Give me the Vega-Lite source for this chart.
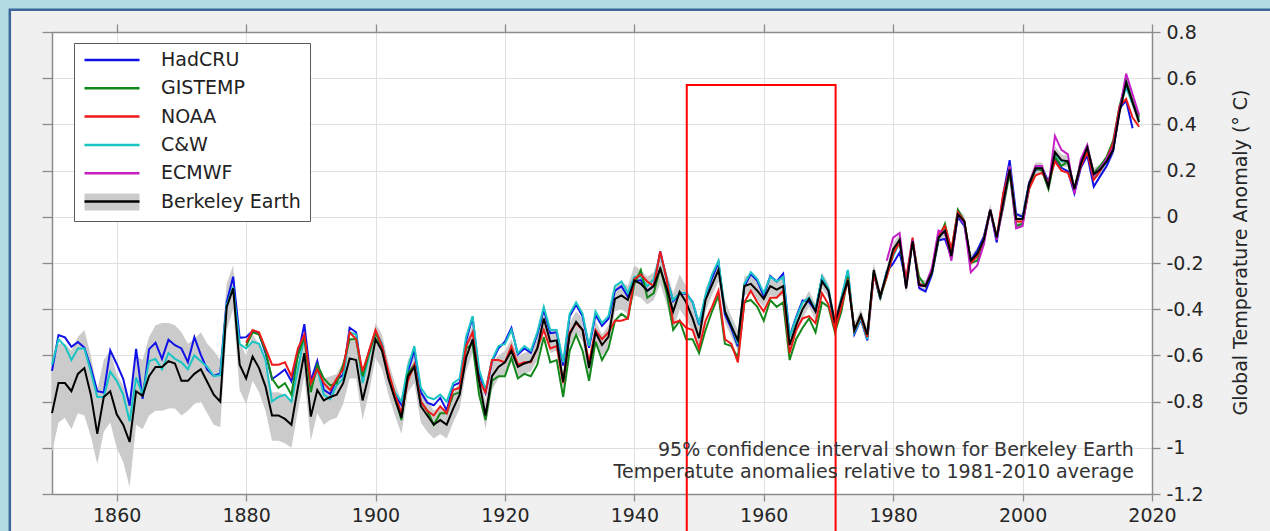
{
  "$schema": "https://vega.github.io/schema/vega-lite/v6.json",
  "width": 1100,
  "height": 462,
  "autosize": {"type": "none"},
  "padding": {"left": 52, "top": 32, "right": 118, "bottom": 37},
  "background": "#f0f0f0",
  "config": {
    "view": {"fill": "white", "stroke": null},
    "font": "DejaVu Sans",
    "axis": {
      "domainColor": "#8c8c8c",
      "domainWidth": 1.5,
      "tickColor": "#8c8c8c",
      "tickWidth": 1.3,
      "labelColor": "#262626",
      "labelFont": "DejaVu Sans",
      "labelFontSize": 19,
      "labelFlush": false,
      "labelOverlap": false,
      "gridColor": "#e0e0e0",
      "gridWidth": 1,
      "titleFont": "DejaVu Sans",
      "titleFontSize": 19,
      "titleFontWeight": "normal",
      "titleColor": "#262626"
    }
  },
  "data": {
    "values": [
      {"year":1850,"HadCRU":-0.667,"C&W":-0.64,"Berkeley Earth":-0.85,"lo":-1.02,"hi":-0.66},
      {"year":1851,"HadCRU":-0.512,"C&W":-0.53,"Berkeley Earth":-0.72,"lo":-0.89,"hi":-0.55},
      {"year":1852,"HadCRU":-0.522,"C&W":-0.56,"Berkeley Earth":-0.72,"lo":-0.87,"hi":-0.55},
      {"year":1853,"HadCRU":-0.563,"C&W":-0.62,"Berkeley Earth":-0.755,"lo":-0.92,"hi":-0.58},
      {"year":1854,"HadCRU":-0.542,"C&W":-0.57,"Berkeley Earth":-0.68,"lo":-0.85,"hi":-0.52},
      {"year":1855,"HadCRU":-0.566,"C&W":-0.57,"Berkeley Earth":-0.655,"lo":-0.86,"hi":-0.49},
      {"year":1856,"HadCRU":-0.652,"C&W":-0.67,"Berkeley Earth":-0.77,"lo":-0.95,"hi":-0.6},
      {"year":1857,"HadCRU":-0.755,"C&W":-0.78,"Berkeley Earth":-0.94,"lo":-1.07,"hi":-0.75},
      {"year":1858,"HadCRU":-0.761,"C&W":-0.78,"Berkeley Earth":-0.78,"lo":-0.93,"hi":-0.62},
      {"year":1859,"HadCRU":-0.578,"C&W":-0.67,"Berkeley Earth":-0.755,"lo":-0.89,"hi":-0.58},
      {"year":1860,"HadCRU":-0.637,"C&W":-0.71,"Berkeley Earth":-0.855,"lo":-1.0,"hi":-0.68},
      {"year":1861,"HadCRU":-0.701,"C&W":-0.77,"Berkeley Earth":-0.9,"lo":-1.06,"hi":-0.73},
      {"year":1862,"HadCRU":-0.818,"C&W":-0.885,"Berkeley Earth":-0.975,"lo":-1.17,"hi":-0.8},
      {"year":1863,"HadCRU":-0.572,"C&W":-0.695,"Berkeley Earth":-0.755,"lo":-0.9,"hi":-0.6},
      {"year":1864,"HadCRU":-0.788,"C&W":-0.77,"Berkeley Earth":-0.775,"lo":-0.92,"hi":-0.62},
      {"year":1865,"HadCRU":-0.573,"C&W":-0.625,"Berkeley Earth":-0.69,"lo":-0.86,"hi":-0.52},
      {"year":1866,"HadCRU":-0.545,"C&W":-0.615,"Berkeley Earth":-0.65,"lo":-0.84,"hi":-0.47},
      {"year":1867,"HadCRU":-0.615,"C&W":-0.66,"Berkeley Earth":-0.65,"lo":-0.84,"hi":-0.46},
      {"year":1868,"HadCRU":-0.532,"C&W":-0.59,"Berkeley Earth":-0.625,"lo":-0.83,"hi":-0.46},
      {"year":1869,"HadCRU":-0.556,"C&W":-0.615,"Berkeley Earth":-0.635,"lo":-0.83,"hi":-0.47},
      {"year":1870,"HadCRU":-0.57,"C&W":-0.63,"Berkeley Earth":-0.71,"lo":-0.86,"hi":-0.5},
      {"year":1871,"HadCRU":-0.629,"C&W":-0.66,"Berkeley Earth":-0.71,"lo":-0.84,"hi":-0.55},
      {"year":1872,"HadCRU":-0.521,"C&W":-0.6,"Berkeley Earth":-0.68,"lo":-0.81,"hi":-0.53},
      {"year":1873,"HadCRU":-0.598,"C&W":-0.625,"Berkeley Earth":-0.66,"lo":-0.8,"hi":-0.5},
      {"year":1874,"HadCRU":-0.662,"C&W":-0.65,"Berkeley Earth":-0.715,"lo":-0.85,"hi":-0.55},
      {"year":1875,"HadCRU":-0.689,"C&W":-0.69,"Berkeley Earth":-0.77,"lo":-0.9,"hi":-0.58},
      {"year":1876,"HadCRU":-0.678,"C&W":-0.685,"Berkeley Earth":-0.8,"lo":-0.91,"hi":-0.62},
      {"year":1877,"HadCRU":-0.369,"C&W":-0.38,"Berkeley Earth":-0.39,"lo":-0.49,"hi":-0.29},
      {"year":1878,"HadCRU":-0.259,"C&W":-0.305,"Berkeley Earth":-0.31,"lo":-0.4,"hi":-0.21},
      {"year":1879,"HadCRU":-0.524,"C&W":-0.55,"Berkeley Earth":-0.64,"lo":-0.75,"hi":-0.54},
      {"year":1880,"HadCRU":-0.521,"GISTEMP":-0.56,"NOAA":-0.545,"C&W":-0.57,"Berkeley Earth":-0.7,"lo":-0.81,"hi":-0.6},
      {"year":1881,"HadCRU":-0.494,"GISTEMP":-0.5,"NOAA":-0.49,"C&W":-0.54,"Berkeley Earth":-0.605,"lo":-0.71,"hi":-0.51},
      {"year":1882,"HadCRU":-0.507,"GISTEMP":-0.51,"NOAA":-0.5,"C&W":-0.55,"Berkeley Earth":-0.655,"lo":-0.76,"hi":-0.55},
      {"year":1883,"HadCRU":-0.59,"GISTEMP":-0.58,"NOAA":-0.57,"C&W":-0.62,"Berkeley Earth":-0.735,"lo":-0.84,"hi":-0.63},
      {"year":1884,"HadCRU":-0.703,"GISTEMP":-0.7,"NOAA":-0.64,"C&W":-0.8,"Berkeley Earth":-0.86,"lo":-0.97,"hi":-0.76},
      {"year":1885,"HadCRU":-0.683,"GISTEMP":-0.74,"NOAA":-0.64,"C&W":-0.78,"Berkeley Earth":-0.86,"lo":-0.97,"hi":-0.76},
      {"year":1886,"HadCRU":-0.661,"GISTEMP":-0.72,"NOAA":-0.63,"C&W":-0.77,"Berkeley Earth":-0.875,"lo":-0.98,"hi":-0.77},
      {"year":1887,"HadCRU":-0.712,"GISTEMP":-0.77,"NOAA":-0.69,"C&W":-0.8,"Berkeley Earth":-0.9,"lo":-1.0,"hi":-0.8},
      {"year":1888,"HadCRU":-0.601,"GISTEMP":-0.6,"NOAA":-0.57,"C&W":-0.66,"Berkeley Earth":-0.74,"lo":-0.84,"hi":-0.64},
      {"year":1889,"HadCRU":-0.465,"GISTEMP":-0.52,"NOAA":-0.51,"C&W":-0.52,"Berkeley Earth":-0.59,"lo":-0.69,"hi":-0.5},
      {"year":1890,"HadCRU":-0.71,"GISTEMP":-0.76,"NOAA":-0.72,"C&W":-0.74,"Berkeley Earth":-0.865,"lo":-0.97,"hi":-0.77},
      {"year":1891,"HadCRU":-0.624,"GISTEMP":-0.64,"NOAA":-0.66,"C&W":-0.66,"Berkeley Earth":-0.75,"lo":-0.85,"hi":-0.66},
      {"year":1892,"HadCRU":-0.749,"GISTEMP":-0.7,"NOAA":-0.72,"C&W":-0.77,"Berkeley Earth":-0.795,"lo":-0.9,"hi":-0.7},
      {"year":1893,"HadCRU":-0.767,"GISTEMP":-0.73,"NOAA":-0.75,"C&W":-0.79,"Berkeley Earth":-0.78,"lo":-0.88,"hi":-0.69},
      {"year":1894,"HadCRU":-0.704,"GISTEMP":-0.72,"NOAA":-0.7,"C&W":-0.73,"Berkeley Earth":-0.77,"lo":-0.87,"hi":-0.68},
      {"year":1895,"HadCRU":-0.684,"GISTEMP":-0.64,"NOAA":-0.66,"C&W":-0.7,"Berkeley Earth":-0.72,"lo":-0.81,"hi":-0.63},
      {"year":1896,"HadCRU":-0.48,"GISTEMP":-0.53,"NOAA":-0.5,"C&W":-0.5,"Berkeley Earth":-0.613,"lo":-0.7,"hi":-0.53},
      {"year":1897,"HadCRU":-0.5,"GISTEMP":-0.53,"NOAA":-0.53,"C&W":-0.51,"Berkeley Earth":-0.62,"lo":-0.7,"hi":-0.54},
      {"year":1898,"HadCRU":-0.706,"GISTEMP":-0.69,"NOAA":-0.67,"C&W":-0.72,"Berkeley Earth":-0.795,"lo":-0.88,"hi":-0.71},
      {"year":1899,"HadCRU":-0.583,"GISTEMP":-0.59,"NOAA":-0.58,"C&W":-0.6,"Berkeley Earth":-0.68,"lo":-0.76,"hi":-0.6},
      {"year":1900,"HadCRU":-0.497,"GISTEMP":-0.5,"NOAA":-0.49,"C&W":-0.5,"Berkeley Earth":-0.53,"lo":-0.61,"hi":-0.46},
      {"year":1901,"HadCRU":-0.553,"GISTEMP":-0.57,"NOAA":-0.56,"C&W":-0.55,"Berkeley Earth":-0.58,"lo":-0.66,"hi":-0.51},
      {"year":1902,"HadCRU":-0.696,"GISTEMP":-0.69,"NOAA":-0.67,"C&W":-0.69,"Berkeley Earth":-0.7,"lo":-0.77,"hi":-0.63},
      {"year":1903,"HadCRU":-0.773,"GISTEMP":-0.78,"NOAA":-0.77,"C&W":-0.76,"Berkeley Earth":-0.79,"lo":-0.86,"hi":-0.72},
      {"year":1904,"HadCRU":-0.814,"GISTEMP":-0.88,"NOAA":-0.85,"C&W":-0.8,"Berkeley Earth":-0.87,"lo":-0.94,"hi":-0.8},
      {"year":1905,"HadCRU":-0.671,"GISTEMP":-0.68,"NOAA":-0.71,"C&W":-0.65,"Berkeley Earth":-0.69,"lo":-0.76,"hi":-0.62},
      {"year":1906,"HadCRU":-0.577,"GISTEMP":-0.64,"NOAA":-0.64,"C&W":-0.56,"Berkeley Earth":-0.65,"lo":-0.72,"hi":-0.58},
      {"year":1907,"HadCRU":-0.759,"GISTEMP":-0.8,"NOAA":-0.8,"C&W":-0.74,"Berkeley Earth":-0.82,"lo":-0.89,"hi":-0.75},
      {"year":1908,"HadCRU":-0.805,"GISTEMP":-0.84,"NOAA":-0.84,"C&W":-0.78,"Berkeley Earth":-0.86,"lo":-0.93,"hi":-0.79},
      {"year":1909,"HadCRU":-0.816,"GISTEMP":-0.9,"NOAA":-0.86,"C&W":-0.79,"Berkeley Earth":-0.9,"lo":-0.96,"hi":-0.84},
      {"year":1910,"HadCRU":-0.784,"GISTEMP":-0.85,"NOAA":-0.82,"C&W":-0.77,"Berkeley Earth":-0.88,"lo":-0.94,"hi":-0.82},
      {"year":1911,"HadCRU":-0.838,"GISTEMP":-0.85,"NOAA":-0.85,"C&W":-0.8,"Berkeley Earth":-0.9,"lo":-0.96,"hi":-0.84},
      {"year":1912,"HadCRU":-0.731,"GISTEMP":-0.77,"NOAA":-0.75,"C&W":-0.72,"Berkeley Earth":-0.83,"lo":-0.89,"hi":-0.77},
      {"year":1913,"HadCRU":-0.718,"GISTEMP":-0.76,"NOAA":-0.74,"C&W":-0.7,"Berkeley Earth":-0.77,"lo":-0.83,"hi":-0.71},
      {"year":1914,"HadCRU":-0.538,"GISTEMP":-0.57,"NOAA":-0.56,"C&W":-0.52,"Berkeley Earth":-0.61,"lo":-0.67,"hi":-0.55},
      {"year":1915,"HadCRU":-0.435,"GISTEMP":-0.55,"NOAA":-0.5,"C&W":-0.43,"Berkeley Earth":-0.53,"lo":-0.59,"hi":-0.47},
      {"year":1916,"HadCRU":-0.677,"GISTEMP":-0.77,"NOAA":-0.71,"C&W":-0.66,"Berkeley Earth":-0.71,"lo":-0.77,"hi":-0.65},
      {"year":1917,"HadCRU":-0.762,"GISTEMP":-0.88,"NOAA":-0.76,"C&W":-0.75,"Berkeley Earth":-0.86,"lo":-0.92,"hi":-0.8},
      {"year":1918,"HadCRU":-0.627,"GISTEMP":-0.71,"NOAA":-0.62,"C&W":-0.62,"Berkeley Earth":-0.69,"lo":-0.75,"hi":-0.63},
      {"year":1919,"HadCRU":-0.569,"GISTEMP":-0.69,"NOAA":-0.62,"C&W":-0.56,"Berkeley Earth":-0.65,"lo":-0.7,"hi":-0.6},
      {"year":1920,"HadCRU":-0.541,"GISTEMP":-0.69,"NOAA":-0.63,"C&W":-0.55,"Berkeley Earth":-0.63,"lo":-0.68,"hi":-0.58},
      {"year":1921,"HadCRU":-0.481,"GISTEMP":-0.61,"NOAA":-0.56,"C&W":-0.49,"Berkeley Earth":-0.58,"lo":-0.63,"hi":-0.53},
      {"year":1922,"HadCRU":-0.596,"GISTEMP":-0.7,"NOAA":-0.64,"C&W":-0.59,"Berkeley Earth":-0.65,"lo":-0.7,"hi":-0.6},
      {"year":1923,"HadCRU":-0.57,"GISTEMP":-0.68,"NOAA":-0.63,"C&W":-0.56,"Berkeley Earth":-0.635,"lo":-0.68,"hi":-0.59},
      {"year":1924,"HadCRU":-0.588,"GISTEMP":-0.69,"NOAA":-0.63,"C&W":-0.58,"Berkeley Earth":-0.625,"lo":-0.67,"hi":-0.58},
      {"year":1925,"HadCRU":-0.509,"GISTEMP":-0.64,"NOAA":-0.57,"C&W":-0.5,"Berkeley Earth":-0.57,"lo":-0.62,"hi":-0.52},
      {"year":1926,"HadCRU":-0.402,"GISTEMP":-0.52,"NOAA":-0.49,"C&W":-0.39,"Berkeley Earth":-0.44,"lo":-0.49,"hi":-0.39},
      {"year":1927,"HadCRU":-0.504,"GISTEMP":-0.63,"NOAA":-0.57,"C&W":-0.49,"Berkeley Earth":-0.54,"lo":-0.59,"hi":-0.49},
      {"year":1928,"HadCRU":-0.5,"GISTEMP":-0.62,"NOAA":-0.56,"C&W":-0.49,"Berkeley Earth":-0.535,"lo":-0.58,"hi":-0.49},
      {"year":1929,"HadCRU":-0.644,"GISTEMP":-0.78,"NOAA":-0.72,"C&W":-0.63,"Berkeley Earth":-0.715,"lo":-0.76,"hi":-0.67},
      {"year":1930,"HadCRU":-0.431,"GISTEMP":-0.58,"NOAA":-0.5,"C&W":-0.42,"Berkeley Earth":-0.51,"lo":-0.56,"hi":-0.46},
      {"year":1931,"HadCRU":-0.381,"GISTEMP":-0.51,"NOAA":-0.46,"C&W":-0.37,"Berkeley Earth":-0.455,"lo":-0.5,"hi":-0.41},
      {"year":1932,"HadCRU":-0.431,"GISTEMP":-0.58,"NOAA":-0.49,"C&W":-0.42,"Berkeley Earth":-0.49,"lo":-0.54,"hi":-0.44},
      {"year":1933,"HadCRU":-0.567,"GISTEMP":-0.71,"NOAA":-0.63,"C&W":-0.56,"Berkeley Earth":-0.655,"lo":-0.7,"hi":-0.61},
      {"year":1934,"HadCRU":-0.425,"GISTEMP":-0.54,"NOAA":-0.49,"C&W":-0.41,"Berkeley Earth":-0.5,"lo":-0.55,"hi":-0.45},
      {"year":1935,"HadCRU":-0.472,"GISTEMP":-0.62,"NOAA":-0.53,"C&W":-0.46,"Berkeley Earth":-0.555,"lo":-0.6,"hi":-0.51},
      {"year":1936,"HadCRU":-0.441,"GISTEMP":-0.57,"NOAA":-0.5,"C&W":-0.43,"Berkeley Earth":-0.52,"lo":-0.57,"hi":-0.47},
      {"year":1937,"HadCRU":-0.32,"GISTEMP":-0.45,"NOAA":-0.45,"C&W":-0.3,"Berkeley Earth":-0.355,"lo":-0.41,"hi":-0.3},
      {"year":1938,"HadCRU":-0.3,"GISTEMP":-0.42,"NOAA":-0.45,"C&W":-0.28,"Berkeley Earth":-0.34,"lo":-0.4,"hi":-0.28},
      {"year":1939,"HadCRU":-0.346,"GISTEMP":-0.44,"NOAA":-0.44,"C&W":-0.33,"Berkeley Earth":-0.36,"lo":-0.42,"hi":-0.3},
      {"year":1940,"HadCRU":-0.28,"GISTEMP":-0.29,"NOAA":-0.27,"C&W":-0.26,"Berkeley Earth":-0.275,"lo":-0.34,"hi":-0.21},
      {"year":1941,"HadCRU":-0.274,"GISTEMP":-0.23,"NOAA":-0.25,"C&W":-0.26,"Berkeley Earth":-0.29,"lo":-0.35,"hi":-0.23},
      {"year":1942,"HadCRU":-0.321,"GISTEMP":-0.35,"NOAA":-0.28,"C&W":-0.3,"Berkeley Earth":-0.32,"lo":-0.38,"hi":-0.26},
      {"year":1943,"HadCRU":-0.298,"GISTEMP":-0.33,"NOAA":-0.3,"C&W":-0.27,"Berkeley Earth":-0.3,"lo":-0.36,"hi":-0.24},
      {"year":1944,"HadCRU":-0.15,"GISTEMP":-0.22,"NOAA":-0.15,"C&W":-0.16,"Berkeley Earth":-0.225,"lo":-0.29,"hi":-0.16},
      {"year":1945,"HadCRU":-0.269,"GISTEMP":-0.33,"NOAA":-0.27,"C&W":-0.27,"Berkeley Earth":-0.31,"lo":-0.38,"hi":-0.24},
      {"year":1946,"HadCRU":-0.365,"GISTEMP":-0.49,"NOAA":-0.46,"C&W":-0.36,"Berkeley Earth":-0.41,"lo":-0.49,"hi":-0.33},
      {"year":1947,"HadCRU":-0.332,"GISTEMP":-0.45,"NOAA":-0.45,"C&W":-0.33,"Berkeley Earth":-0.325,"lo":-0.4,"hi":-0.25},
      {"year":1948,"HadCRU":-0.333,"GISTEMP":-0.53,"NOAA":-0.48,"C&W":-0.33,"Berkeley Earth":-0.37,"lo":-0.44,"hi":-0.3},
      {"year":1949,"HadCRU":-0.368,"GISTEMP":-0.53,"NOAA":-0.49,"C&W":-0.37,"Berkeley Earth":-0.44,"lo":-0.5,"hi":-0.38},
      {"year":1950,"HadCRU":-0.467,"GISTEMP":-0.59,"NOAA":-0.57,"C&W":-0.46,"Berkeley Earth":-0.525,"lo":-0.58,"hi":-0.47},
      {"year":1951,"HadCRU":-0.346,"GISTEMP":-0.49,"NOAA":-0.45,"C&W":-0.34,"Berkeley Earth":-0.36,"lo":-0.41,"hi":-0.31},
      {"year":1952,"HadCRU":-0.266,"GISTEMP":-0.41,"NOAA":-0.39,"C&W":-0.25,"Berkeley Earth":-0.295,"lo":-0.34,"hi":-0.25},
      {"year":1953,"HadCRU":-0.197,"GISTEMP":-0.34,"NOAA":-0.32,"C&W":-0.19,"Berkeley Earth":-0.23,"lo":-0.28,"hi":-0.18},
      {"year":1954,"HadCRU":-0.423,"GISTEMP":-0.55,"NOAA":-0.53,"C&W":-0.41,"Berkeley Earth":-0.41,"lo":-0.46,"hi":-0.36},
      {"year":1955,"HadCRU":-0.484,"GISTEMP":-0.56,"NOAA":-0.55,"C&W":-0.47,"Berkeley Earth":-0.475,"lo":-0.52,"hi":-0.43},
      {"year":1956,"HadCRU":-0.561,"GISTEMP":-0.61,"NOAA":-0.63,"C&W":-0.55,"Berkeley Earth":-0.535,"lo":-0.58,"hi":-0.49},
      {"year":1957,"HadCRU":-0.301,"GISTEMP":-0.37,"NOAA":-0.37,"C&W":-0.29,"Berkeley Earth":-0.3,"lo":-0.34,"hi":-0.26},
      {"year":1958,"HadCRU":-0.248,"GISTEMP":-0.36,"NOAA":-0.32,"C&W":-0.24,"Berkeley Earth":-0.29,"lo":-0.33,"hi":-0.25},
      {"year":1959,"HadCRU":-0.277,"GISTEMP":-0.39,"NOAA":-0.37,"C&W":-0.27,"Berkeley Earth":-0.32,"lo":-0.36,"hi":-0.28},
      {"year":1960,"HadCRU":-0.343,"GISTEMP":-0.45,"NOAA":-0.41,"C&W":-0.33,"Berkeley Earth":-0.355,"lo":-0.39,"hi":-0.32},
      {"year":1961,"HadCRU":-0.256,"GISTEMP":-0.36,"NOAA":-0.35,"C&W":-0.26,"Berkeley Earth":-0.3,"lo":-0.34,"hi":-0.27},
      {"year":1962,"HadCRU":-0.28,"GISTEMP":-0.39,"NOAA":-0.35,"C&W":-0.28,"Berkeley Earth":-0.315,"lo":-0.35,"hi":-0.28},
      {"year":1963,"HadCRU":-0.246,"GISTEMP":-0.37,"NOAA":-0.32,"C&W":-0.26,"Berkeley Earth":-0.3,"lo":-0.34,"hi":-0.26},
      {"year":1964,"HadCRU":-0.517,"GISTEMP":-0.62,"NOAA":-0.59,"C&W":-0.52,"Berkeley Earth":-0.555,"lo":-0.59,"hi":-0.52},
      {"year":1965,"HadCRU":-0.434,"GISTEMP":-0.53,"NOAA":-0.49,"C&W":-0.44,"Berkeley Earth":-0.47,"lo":-0.51,"hi":-0.43},
      {"year":1966,"HadCRU":-0.362,"GISTEMP":-0.48,"NOAA":-0.44,"C&W":-0.37,"Berkeley Earth":-0.4,"lo":-0.44,"hi":-0.37},
      {"year":1967,"HadCRU":-0.368,"GISTEMP":-0.44,"NOAA":-0.43,"C&W":-0.35,"Berkeley Earth":-0.355,"lo":-0.39,"hi":-0.32},
      {"year":1968,"HadCRU":-0.407,"GISTEMP":-0.5,"NOAA":-0.46,"C&W":-0.4,"Berkeley Earth":-0.41,"lo":-0.45,"hi":-0.38},
      {"year":1969,"HadCRU":-0.262,"GISTEMP":-0.37,"NOAA":-0.33,"C&W":-0.26,"Berkeley Earth":-0.28,"lo":-0.31,"hi":-0.24},
      {"year":1970,"HadCRU":-0.321,"GISTEMP":-0.39,"NOAA":-0.38,"C&W":-0.31,"Berkeley Earth":-0.32,"lo":-0.35,"hi":-0.29},
      {"year":1971,"HadCRU":-0.48,"GISTEMP":-0.5,"NOAA":-0.49,"C&W":-0.47,"Berkeley Earth":-0.46,"lo":-0.49,"hi":-0.43},
      {"year":1972,"HadCRU":-0.359,"GISTEMP":-0.41,"NOAA":-0.39,"C&W":-0.35,"Berkeley Earth":-0.36,"lo":-0.39,"hi":-0.33},
      {"year":1973,"HadCRU":-0.232,"GISTEMP":-0.26,"NOAA":-0.27,"C&W":-0.23,"Berkeley Earth":-0.275,"lo":-0.3,"hi":-0.24},
      {"year":1974,"HadCRU":-0.508,"GISTEMP":-0.49,"NOAA":-0.49,"C&W":-0.5,"Berkeley Earth":-0.49,"lo":-0.52,"hi":-0.46},
      {"year":1975,"HadCRU":-0.443,"GISTEMP":-0.43,"NOAA":-0.43,"C&W":-0.44,"Berkeley Earth":-0.425,"lo":-0.45,"hi":-0.4},
      {"year":1976,"HadCRU":-0.535,"GISTEMP":-0.52,"NOAA":-0.52,"C&W":-0.53,"Berkeley Earth":-0.51,"lo":-0.54,"hi":-0.48},
      {"year":1977,"HadCRU":-0.247,"GISTEMP":-0.24,"NOAA":-0.25,"C&W":-0.24,"Berkeley Earth":-0.23,"lo":-0.26,"hi":-0.2},
      {"year":1978,"HadCRU":-0.356,"GISTEMP":-0.35,"NOAA":-0.34,"C&W":-0.35,"Berkeley Earth":-0.345,"lo":-0.37,"hi":-0.32},
      {"year":1979,"HadCRU":-0.237,"GISTEMP":-0.26,"NOAA":-0.26,"C&W":-0.24,"ECMWF":-0.19,"Berkeley Earth":-0.245,"lo":-0.27,"hi":-0.22},
      {"year":1980,"HadCRU":-0.202,"GISTEMP":-0.16,"NOAA":-0.16,"C&W":-0.17,"ECMWF":-0.09,"Berkeley Earth":-0.14,"lo":-0.165,"hi":-0.115},
      {"year":1981,"HadCRU":-0.154,"GISTEMP":-0.1,"NOAA":-0.11,"C&W":-0.11,"ECMWF":-0.07,"Berkeley Earth":-0.1,"lo":-0.125,"hi":-0.075},
      {"year":1982,"HadCRU":-0.283,"GISTEMP":-0.28,"NOAA":-0.27,"C&W":-0.3,"ECMWF":-0.31,"Berkeley Earth":-0.31,"lo":-0.335,"hi":-0.285},
      {"year":1983,"HadCRU":-0.1,"GISTEMP":-0.11,"NOAA":-0.09,"C&W":-0.1,"ECMWF":-0.1,"Berkeley Earth":-0.105,"lo":-0.13,"hi":-0.08},
      {"year":1984,"HadCRU":-0.308,"GISTEMP":-0.26,"NOAA":-0.29,"C&W":-0.29,"ECMWF":-0.3,"Berkeley Earth":-0.295,"lo":-0.32,"hi":-0.27},
      {"year":1985,"HadCRU":-0.324,"GISTEMP":-0.3,"NOAA":-0.3,"C&W":-0.3,"ECMWF":-0.3,"Berkeley Earth":-0.3,"lo":-0.325,"hi":-0.275},
      {"year":1986,"HadCRU":-0.249,"GISTEMP":-0.24,"NOAA":-0.23,"C&W":-0.24,"ECMWF":-0.22,"Berkeley Earth":-0.24,"lo":-0.265,"hi":-0.215},
      {"year":1987,"HadCRU":-0.102,"GISTEMP":-0.1,"NOAA":-0.08,"C&W":-0.09,"ECMWF":-0.06,"Berkeley Earth":-0.09,"lo":-0.115,"hi":-0.065},
      {"year":1988,"HadCRU":-0.096,"GISTEMP":-0.03,"NOAA":-0.04,"C&W":-0.06,"ECMWF":-0.07,"Berkeley Earth":-0.06,"lo":-0.085,"hi":-0.035},
      {"year":1989,"HadCRU":-0.176,"GISTEMP":-0.15,"NOAA":-0.14,"C&W":-0.17,"ECMWF":-0.19,"Berkeley Earth":-0.17,"lo":-0.195,"hi":-0.145},
      {"year":1990,"HadCRU":0.002,"GISTEMP":0.03,"NOAA":0.02,"C&W":0.01,"ECMWF":0.01,"Berkeley Earth":0.01,"lo":-0.015,"hi":0.035},
      {"year":1991,"HadCRU":-0.04,"GISTEMP":-0.02,"NOAA":-0.02,"C&W":-0.03,"ECMWF":-0.03,"Berkeley Earth":-0.02,"lo":-0.045,"hi":0.005},
      {"year":1992,"HadCRU":-0.189,"GISTEMP":-0.2,"NOAA":-0.2,"C&W":-0.2,"ECMWF":-0.24,"Berkeley Earth":-0.19,"lo":-0.215,"hi":-0.165},
      {"year":1993,"HadCRU":-0.146,"GISTEMP":-0.19,"NOAA":-0.17,"C&W":-0.16,"ECMWF":-0.21,"Berkeley Earth":-0.16,"lo":-0.185,"hi":-0.135},
      {"year":1994,"HadCRU":-0.086,"GISTEMP":-0.11,"NOAA":-0.1,"C&W":-0.1,"ECMWF":-0.12,"Berkeley Earth":-0.1,"lo":-0.125,"hi":-0.075},
      {"year":1995,"HadCRU":0.031,"GISTEMP":0.03,"NOAA":0.03,"C&W":0.03,"ECMWF":0.03,"Berkeley Earth":0.03,"lo":0.005,"hi":0.055},
      {"year":1996,"HadCRU":-0.111,"GISTEMP":-0.09,"NOAA":-0.09,"C&W":-0.09,"ECMWF":-0.1,"Berkeley Earth":-0.09,"lo":-0.115,"hi":-0.065},
      {"year":1997,"HadCRU":0.096,"GISTEMP":0.04,"NOAA":0.1,"C&W":0.07,"ECMWF":0.05,"Berkeley Earth":0.06,"lo":0.035,"hi":0.085},
      {"year":1998,"HadCRU":0.245,"GISTEMP":0.19,"NOAA":0.21,"C&W":0.22,"ECMWF":0.22,"Berkeley Earth":0.205,"lo":0.18,"hi":0.23},
      {"year":1999,"HadCRU":0.012,"GISTEMP":-0.04,"NOAA":-0.02,"C&W":-0.01,"ECMWF":-0.05,"Berkeley Earth":-0.01,"lo":-0.035,"hi":0.015},
      {"year":2000,"HadCRU":0.0,"GISTEMP":-0.03,"NOAA":-0.02,"C&W":-0.01,"ECMWF":-0.04,"Berkeley Earth":-0.01,"lo":-0.035,"hi":0.015},
      {"year":2001,"HadCRU":0.147,"GISTEMP":0.12,"NOAA":0.12,"C&W":0.14,"ECMWF":0.14,"Berkeley Earth":0.14,"lo":0.115,"hi":0.165},
      {"year":2002,"HadCRU":0.202,"GISTEMP":0.21,"NOAA":0.18,"C&W":0.21,"ECMWF":0.22,"Berkeley Earth":0.21,"lo":0.185,"hi":0.235},
      {"year":2003,"HadCRU":0.211,"GISTEMP":0.2,"NOAA":0.19,"C&W":0.21,"ECMWF":0.22,"Berkeley Earth":0.21,"lo":0.185,"hi":0.235},
      {"year":2004,"HadCRU":0.153,"GISTEMP":0.12,"NOAA":0.15,"C&W":0.14,"ECMWF":0.13,"Berkeley Earth":0.13,"lo":0.105,"hi":0.155},
      {"year":2005,"HadCRU":0.251,"GISTEMP":0.26,"NOAA":0.24,"C&W":0.27,"ECMWF":0.35,"Berkeley Earth":0.28,"lo":0.255,"hi":0.305},
      {"year":2006,"HadCRU":0.212,"GISTEMP":0.22,"NOAA":0.2,"C&W":0.24,"ECMWF":0.29,"Berkeley Earth":0.245,"lo":0.22,"hi":0.27},
      {"year":2007,"HadCRU":0.197,"GISTEMP":0.24,"NOAA":0.19,"C&W":0.24,"ECMWF":0.27,"Berkeley Earth":0.24,"lo":0.215,"hi":0.265},
      {"year":2008,"HadCRU":0.101,"GISTEMP":0.12,"NOAA":0.12,"C&W":0.12,"ECMWF":0.1,"Berkeley Earth":0.12,"lo":0.095,"hi":0.145},
      {"year":2009,"HadCRU":0.212,"GISTEMP":0.23,"NOAA":0.22,"C&W":0.23,"ECMWF":0.25,"Berkeley Earth":0.23,"lo":0.205,"hi":0.255},
      {"year":2010,"HadCRU":0.266,"GISTEMP":0.3,"NOAA":0.28,"C&W":0.3,"ECMWF":0.31,"Berkeley Earth":0.3,"lo":0.275,"hi":0.325},
      {"year":2011,"HadCRU":0.131,"GISTEMP":0.19,"NOAA":0.16,"C&W":0.17,"ECMWF":0.18,"Berkeley Earth":0.185,"lo":0.16,"hi":0.21},
      {"year":2012,"HadCRU":0.176,"GISTEMP":0.22,"NOAA":0.2,"C&W":0.2,"ECMWF":0.21,"Berkeley Earth":0.205,"lo":0.18,"hi":0.23},
      {"year":2013,"HadCRU":0.22,"GISTEMP":0.26,"NOAA":0.25,"C&W":0.24,"ECMWF":0.25,"Berkeley Earth":0.24,"lo":0.215,"hi":0.265},
      {"year":2014,"HadCRU":0.285,"GISTEMP":0.33,"NOAA":0.32,"C&W":0.3,"ECMWF":0.3,"Berkeley Earth":0.29,"lo":0.265,"hi":0.315},
      {"year":2015,"HadCRU":0.469,"GISTEMP":0.48,"NOAA":0.48,"C&W":0.47,"ECMWF":0.46,"Berkeley Earth":0.455,"lo":0.43,"hi":0.48},
      {"year":2016,"HadCRU":0.503,"GISTEMP":0.59,"NOAA":0.51,"C&W":0.56,"ECMWF":0.62,"Berkeley Earth":0.58,"lo":0.555,"hi":0.605},
      {"year":2017,"HadCRU":0.383,"GISTEMP":0.5,"NOAA":0.43,"C&W":0.49,"ECMWF":0.53,"Berkeley Earth":0.495,"lo":0.47,"hi":0.52},
      {"year":2018,"GISTEMP":0.43,"NOAA":0.39,"C&W":0.42,"ECMWF":0.44,"Berkeley Earth":0.41,"lo":0.385,"hi":0.435}
    ]
  },
  "layer": [
    {
      "data": {"values": [{}]},
      "mark": {"type": "rect", "filled": false, "color": "#b3dce2", "strokeWidth": 18},
      "encoding": {
        "x": {"datum": 1841.96, "type": "quantitative", "scale": {"domain": [1850, 2020], "nice": false, "zero": false}, "axis": null},
        "x2": {"datum": 2045},
        "y": {"datum": 0.9385, "type": "quantitative", "scale": {"domain": [-1.2, 0.8], "nice": false, "zero": false}, "axis": null},
        "y2": {"datum": -1.6}
      }
    },
    {
      "data": {"values": [{}]},
      "mark": {"type": "rect", "filled": false, "color": "#3b679a", "strokeWidth": 2.5},
      "encoding": {
        "x": {"datum": 1843.48, "type": "quantitative", "axis": null},
        "x2": {"datum": 2045},
        "y": {"datum": 0.8961, "type": "quantitative", "axis": null},
        "y2": {"datum": -1.6}
      }
    },
    {
      "mark": {"type": "area", "opacity": 1},
      "encoding": {
        "x": {
          "field": "year", "type": "quantitative",
          "scale": {"domain": [1850, 2020], "nice": false, "zero": false},
          "axis": {"orient": "bottom", "values": [1860, 1880, 1900, 1920, 1940, 1960, 1980, 2000, 2020], "format": "d", "grid": true, "tickSize": 7, "labelPadding": 5, "title": null}
        },
        "y": {
          "field": "lo", "type": "quantitative",
          "scale": {"domain": [-1.2, 0.8], "nice": false, "zero": false},
          "axis": {
            "orient": "right",
            "values": [-1.2, -1, -0.8, -0.6, -0.4, -0.2, 0, 0.2, 0.4, 0.6, 0.8],
            "labelExpr": "datum.value < 0 ? '-' + format(-datum.value, '~g') : format(datum.value, '~g')",
            "grid": true, "tickSize": 8, "labelPadding": 6, "labelBaseline": "middle",
            "title": "Global Temperature Anomaly (° C)",
            "titleAngle": 270, "titleX": 88, "titleY": 220, "titleAlign": "center", "titleBaseline": "middle"
          }
        },
        "y2": {"field": "hi"},
        "color": {
          "datum": "Berkeley Earth", "type": "nominal",
          "scale": {
            "domain": ["Berkeley Earth", "ECMWF", "C&W", "NOAA", "GISTEMP", "HadCRU"],
            "range": ["#cbcbcb", "rgba(0,0,0,0)", "rgba(0,0,0,0)", "rgba(0,0,0,0)", "rgba(0,0,0,0)", "rgba(0,0,0,0)"]
          },
          "legend": {
            "title": null, "orient": "none", "legendX": 22, "legendY": 11,
            "values": ["HadCRU", "GISTEMP", "NOAA", "C&W", "ECMWF", "Berkeley Earth"],
            "symbolType": "M-1,-0.33H1V0.33H-1Z", "symbolSize": 3025, "symbolStrokeWidth": 2.5,
            "symbolStrokeColor": "transparent", "symbolOpacity": 1,
            "labelFontSize": 19, "labelColor": "#222222", "labelFont": "DejaVu Sans", "labelOffset": 20, "labelLimit": 400,
            "padding": 9, "rowPadding": 9.3, "clipHeight": 16,
            "fillColor": "white", "strokeColor": "#5a5a5a"
          }
        }
      }
    },
    {
      "transform": [
        {"fold": ["HadCRU", "GISTEMP", "NOAA", "C&W", "ECMWF"], "as": ["series", "anomaly"]},
        {"filter": "isValid(datum.anomaly)"}
      ],
      "mark": {"type": "line", "strokeWidth": 2},
      "encoding": {
        "x": {
          "field": "year", "type": "quantitative",
          "axis": {"orient": "top", "values": [1860, 1880, 1900, 1920, 1940, 1960, 1980, 2000, 2020], "labels": false, "grid": false, "tickSize": 8, "title": null}
        },
        "y": {
          "field": "anomaly", "type": "quantitative",
          "axis": {"orient": "left", "values": [-1.2, -1, -0.8, -0.6, -0.4, -0.2, 0, 0.2, 0.4, 0.6, 0.8], "labels": false, "grid": false, "tickSize": 10, "title": null}
        },
        "stroke": {
          "field": "series", "type": "nominal",
          "scale": {
            "domain": ["HadCRU", "GISTEMP", "NOAA", "C&W", "ECMWF", "Berkeley Earth"],
            "range": ["#1010e8", "#12881a", "#ee1a1a", "#18c4c4", "#c41ec4", "#000000"]
          },
          "legend": {
            "title": null, "orient": "none", "legendX": 22, "legendY": 11,
            "symbolType": "stroke", "symbolSize": 3025, "symbolStrokeWidth": 2.5,
            "labelFontSize": 19, "labelFont": "DejaVu Sans", "labelOpacity": 0, "labelOffset": 20, "labelLimit": 400,
            "padding": 9, "rowPadding": 9.3, "clipHeight": 16
          }
        }
      }
    },
    {
      "transform": [
        {"fold": ["Berkeley Earth"], "as": ["series", "anomaly"]},
        {"filter": "isValid(datum.anomaly)"}
      ],
      "mark": {"type": "line", "strokeWidth": 2},
      "encoding": {
        "x": {"field": "year", "type": "quantitative", "axis": null},
        "y": {"field": "anomaly", "type": "quantitative", "axis": null},
        "stroke": {
          "field": "series", "type": "nominal",
          "legend": {
            "title": null, "orient": "none", "legendX": 22, "legendY": 11,
            "symbolType": "stroke", "symbolSize": 3025, "symbolStrokeWidth": 2.5,
            "labelFontSize": 19, "labelFont": "DejaVu Sans", "labelOpacity": 0, "labelOffset": 20, "labelLimit": 400,
            "padding": 9, "rowPadding": 9.3, "clipHeight": 16
          }
        }
      }
    },
    {
      "data": {"values": [{}]},
      "mark": {"type": "rect", "filled": false, "color": "#ff0000", "strokeWidth": 2},
      "encoding": {
        "x": {"datum": 1948.1, "type": "quantitative", "axis": null},
        "x2": {"datum": 1971.1},
        "y": {"datum": 0.571, "type": "quantitative", "axis": null},
        "y2": {"datum": -1.6}
      }
    },
    {
      "data": {"values": [{"note": "95% confidence interval shown for Berkeley Earth\nTemperatute anomalies relative to 1981-2010 average"}]},
      "mark": {"type": "text", "lineBreak": "\n", "lineHeight": 22, "align": "right", "baseline": "middle", "fontSize": 19, "font": "DejaVu Sans", "color": "#333333"},
      "encoding": {
        "text": {"field": "note"},
        "x": {"datum": 2017.2, "type": "quantitative", "axis": null},
        "y": {"datum": -1.009, "type": "quantitative", "axis": null}
      }
    }
  ],
  "resolve": {"axis": {"x": "independent", "y": "independent"}}
}
